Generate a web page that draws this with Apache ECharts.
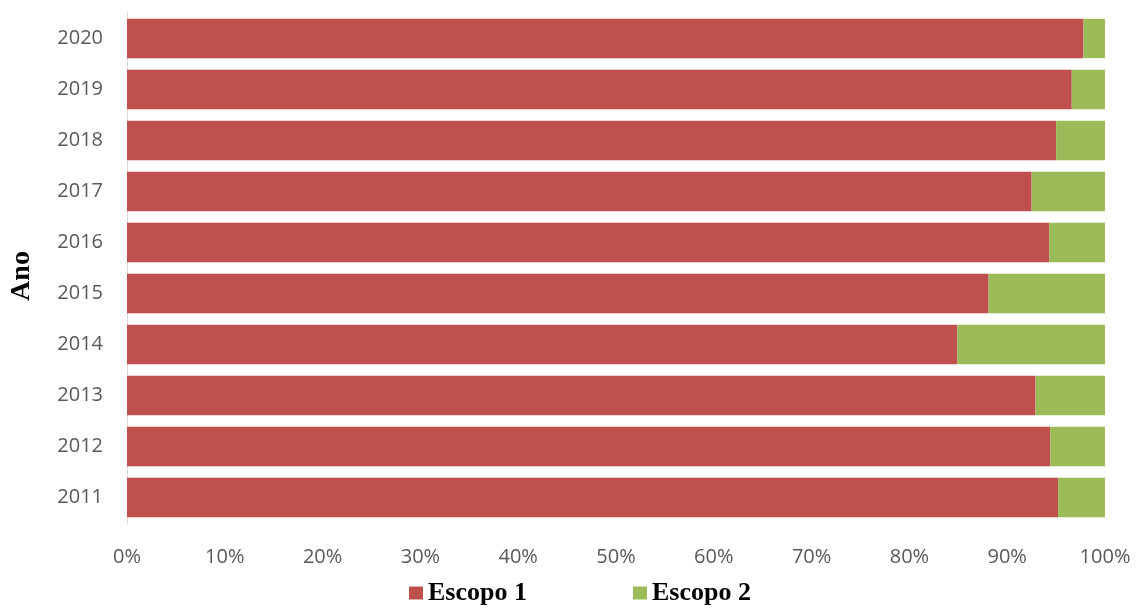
<!DOCTYPE html>
<html>
<head>
<meta charset="utf-8">
<script src="https://cdn.jsdelivr.net/npm/echarts@6/dist/echarts.min.js"></script>
<style>html,body{margin:0;padding:0;background:#fff}#c{width:1138px;height:608px}</style>
</head>
<body>
<div id="c"></div>
<script>
var years = ['2011','2012','2013','2014','2015','2016','2017','2018','2019','2020'];
var escopo1 = [95.2, 94.4, 92.9, 84.9, 88.1, 94.3, 92.5, 95.0, 96.6, 97.8];
var escopo2 = [4.8, 5.6, 7.1, 15.1, 11.9, 5.7, 7.5, 5.0, 3.4, 2.2];
var seriesNames = ['Escopo 1', 'Escopo 2'];
var axisTitle = 'Ano';

var chart = echarts.init(document.getElementById('c'), null, {renderer: 'canvas'});
chart.setOption({
  animation: false,
  grid: {left: 127, right: 33, top: 13, bottom: 85, containLabel: false},
  legend: {
    top: 575, left: 404, itemGap: 106, itemWidth: 14, itemHeight: 13,
    icon: 'rect',
    textStyle: {fontFamily: 'Liberation Serif', fontWeight: 'bold', fontSize: 26, color: '#000'},
    data: seriesNames
  },
  xAxis: {
    type: 'value', min: 0, max: 100, interval: 10,
    axisLabel: {formatter: '{value}%', color: '#595959', fontFamily: 'Open Sans', fontSize: 20, margin: 24},
    splitLine: {show: false}, axisLine: {show: false}, axisTick: {show: false}
  },
  yAxis: {
    type: 'category', data: years,
    name: axisTitle, nameLocation: 'middle', nameGap: 91, nameRotate: 90,
    nameTextStyle: {fontFamily: 'Liberation Serif', fontWeight: 'bold', fontSize: 28, color: '#000', padding: [0,16,0,0]},
    axisLine: {show: true, lineStyle: {color: '#d9d9d9', width: 1}},
    axisTick: {show: false},
    axisLabel: {color: '#595959', fontFamily: 'Open Sans', fontSize: 20, margin: 24}
  },
  series: [
    {name: seriesNames[0], type: 'bar', stack: 'a', data: escopo1, barCategoryGap: '23%', itemStyle: {color: '#C0504D'}},
    {name: seriesNames[1], type: 'bar', stack: 'a', data: escopo2, barCategoryGap: '23%', itemStyle: {color: '#9BBB59'}}
  ]
});
</script>
</body>
</html>
